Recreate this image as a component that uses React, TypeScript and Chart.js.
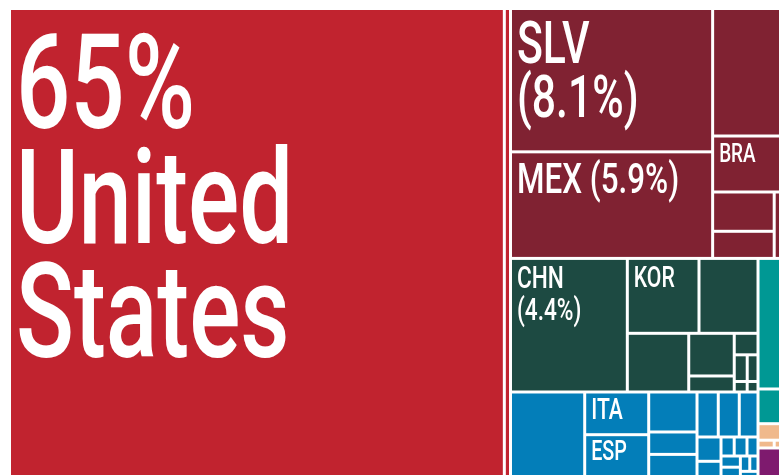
import { useEffect, useRef } from "react";
import { Chart, registerables } from "chart.js";

Chart.register(...registerables);

// ---------- DATA ----------
const regions = ["North America", "Latin America", "Asia", "Europe", "Africa", "Oceania", "Middle East"];

const countries = [
  "USA", "CAN",
  "SLV", "MEX", "LA3", "BRA", "LA5", "LA6", "LA7",
  "CHN", "KOR", "AS3", "AS4", "AS5", "AS6", "AS7", "AS8", "AS9", "AS10", "AS11",
  "EU1", "ITA", "ESP", "EU4", "EU5", "EU6", "EU7", "EU8", "EU9", "EU10", "EU11", "EU12", "EU13", "EU14", "EU15", "EU16", "EU17", "EU18", "EU19",
  "AF1", "AF2",
  "OC1", "OC2", "OC3",
  "ME1",
];

const countryRegion = [
  0, 0,
  1, 1, 1, 1, 1, 1, 1,
  2, 2, 2, 2, 2, 2, 2, 2, 2, 2, 2,
  3, 3, 3, 3, 3, 3, 3, 3, 3, 3, 3, 3, 3, 3, 3, 3, 3, 3, 3,
  4, 4,
  5, 5, 5,
  6,
];

// share of exports, %
const shares = [
  64.18, 0.8,
  8.03, 5.97, 2.398, 1.053, 0.6706, 0.4624, 0.116,
  4.325, 1.488, 1.225, 0.9988, 0.538, 0.202, 0.1417, 0.0959, 0.0797, 0.0377, 0.0315,
  1.738, 0.7575, 0.7415, 0.5354, 0.3, 0.296, 0.265, 0.262, 0.2337, 0.1616, 0.1011, 0.0695, 0.0674, 0.058, 0.06, 0.05, 0.04, 0.035, 0.0252,
  0.814, 0.2164,
  0.1029, 0.035, 0.0136,
  0.1777,
];

const labelLines: Record<string, string[]> = {
  USA: ["65%", "United", "States"],
  SLV: ["SLV", "(8.1%)"],
  MEX: ["MEX (5.9%)"],
  BRA: ["BRA"],
  CHN: ["CHN", "(4.4%)"],
  KOR: ["KOR"],
  ITA: ["ITA"],
  ESP: ["ESP"],
};

// ---------- STYLE ----------
const REGION_COLORS = ["#C1232F", "#802232", "#1D4A42", "#037EB9", "#009894", "#F0B98C", "#7E1A6E"];
const GAP = 3;
const CONDENSE = 0.73;
const LABEL_STYLE: Record<string, { size: number; lh: number; dy: number }> = {
  USA: { size: 131, lh: 114.4, dy: 118.3 },
  SLV: { size: 58.5, lh: 53.4, dy: 53.3 },
  MEX: { size: 43, lh: 43, dy: 39.7 },
  CHN: { size: 31, lh: 32, dy: 28 },
  KOR: { size: 29, lh: 29, dy: 27 },
  BRA: { size: 26, lh: 26, dy: 24.5 },
  ITA: { size: 29, lh: 29, dy: 26 },
  ESP: { size: 27, lh: 27, dy: 24.3 },
};

type Rect = { x0: number; y0: number; x1: number; y1: number };

// d3-style squarified treemap tiling (golden ratio)
function squarify(values: number[], x0: number, y0: number, x1: number, y1: number): Rect[] {
  const out: Rect[] = new Array(values.length);
  const ratio = (1 + Math.sqrt(5)) / 2;
  let value = values.reduce((a, b) => a + b, 0);
  const n = values.length;
  let i0 = 0;
  let i1 = 0;
  while (i0 < n) {
    const dx = x1 - x0;
    const dy = y1 - y0;
    let sumValue = 0;
    do sumValue = values[i1++]; while (!sumValue && i1 < n);
    let minValue = sumValue;
    let maxValue = sumValue;
    const alpha = Math.max(dy / dx, dx / dy) / (value * ratio);
    let beta = sumValue * sumValue * alpha;
    let minRatio = Math.max(maxValue / beta, beta / minValue);
    for (; i1 < n; ++i1) {
      const nv = values[i1];
      sumValue += nv;
      if (nv < minValue) minValue = nv;
      if (nv > maxValue) maxValue = nv;
      beta = sumValue * sumValue * alpha;
      const newRatio = Math.max(maxValue / beta, beta / minValue);
      if (newRatio > minRatio) {
        sumValue -= nv;
        break;
      }
      minRatio = newRatio;
    }
    if (dx < dy) {
      const ny = value ? y0 + (dy * sumValue) / value : y1;
      const k = sumValue ? (x1 - x0) / sumValue : 0;
      let cx = x0;
      for (let i = i0; i < i1; i++) {
        const w = values[i] * k;
        out[i] = { x0: cx, y0, x1: cx + w, y1: ny };
        cx += w;
      }
      y0 = ny;
    } else {
      const nx = value ? x0 + (dx * sumValue) / value : x1;
      const k = sumValue ? (y1 - y0) / sumValue : 0;
      let cy = y0;
      for (let i = i0; i < i1; i++) {
        const h = values[i] * k;
        out[i] = { x0, y0: cy, x1: nx, y1: cy + h };
        cy += h;
      }
      x0 = nx;
    }
    value -= sumValue;
    i0 = i1;
  }
  return out;
}

const treemapPlugin = {
  id: "treemapTiles",
  afterDatasetsDraw(chart: any) {
    const { ctx } = chart;
    const xs = chart.scales.x;
    const ys = chart.scales.y;
    const L = xs.getPixelForValue(0);
    const R = xs.getPixelForValue(1);
    const T = ys.getPixelForValue(0);
    const B = ys.getPixelForValue(1);

    const regionIdx = regions.map((_, r) =>
      countries.map((_, i) => i).filter((i) => countryRegion[i] === r)
    );
    const regionTotals = regionIdx.map((idx) => idx.reduce((s, i) => s + shares[i], 0));
    const regionRects = squarify(regionTotals, L, T, R, B);

    ctx.save();
    regionIdx.forEach((idx, r) => {
      const rr = regionRects[r];
      const rects = squarify(idx.map((i) => shares[i]), rr.x0, rr.y0, rr.x1, rr.y1);
      idx.forEach((ci, k) => {
        const rc = rects[k];
        const x0 = rc.x0 + GAP / 2;
        const y0 = rc.y0 + GAP / 2;
        const w = rc.x1 - rc.x0 - GAP;
        const h = rc.y1 - rc.y0 - GAP;
        if (w <= 0 || h <= 0) return;
        ctx.fillStyle = REGION_COLORS[r];
        ctx.fillRect(x0, y0, w, h);

        const code = countries[ci];
        const lines = labelLines[code];
        const st = LABEL_STYLE[code];
        if (lines && st) {
          ctx.save();
          ctx.beginPath();
          ctx.rect(x0, y0, w, h);
          ctx.clip();
          ctx.fillStyle = "#ffffff";
          ctx.font = `500 ${st.size}px Roboto`;
          ctx.textBaseline = "alphabetic";
          ctx.textAlign = "left";
          lines.forEach((line, li) => {
            ctx.save();
            ctx.translate(x0 + 5, y0 + st.dy + li * st.lh);
            ctx.scale(CONDENSE, 1);
            ctx.fillText(line, 0, 0);
            ctx.restore();
          });
          ctx.restore();
        }
      });
    });
    ctx.restore();
  },
};

export default function App() {
  const ref = useRef<HTMLCanvasElement | null>(null);
  useEffect(() => {
    if (!ref.current) return;
    const chart = new Chart(ref.current, {
      type: "scatter",
      data: { datasets: [{ data: [] }] },
      options: {
        responsive: false,
        animation: false,
        events: [],
        layout: { padding: 0 },
        plugins: { legend: { display: false }, tooltip: { enabled: false } },
        scales: {
          x: { type: "linear", display: false, bounds: "data", min: -9.5 / 771, max: 769.5 / 771 },
          y: { type: "linear", display: false, bounds: "data", reverse: true, min: -8.5 / 468, max: 467.5 / 468 },
        },
      },
      plugins: [treemapPlugin],
    });
    return () => chart.destroy();
  }, []);
  return (
    <div style={{ position: "fixed", left: 0, top: 0, width: 779, height: 476, background: "#ffffff" }}>
      <canvas ref={ref} width={779} height={476} style={{ display: "block", width: 779, height: 476 }} />
    </div>
  );
}
